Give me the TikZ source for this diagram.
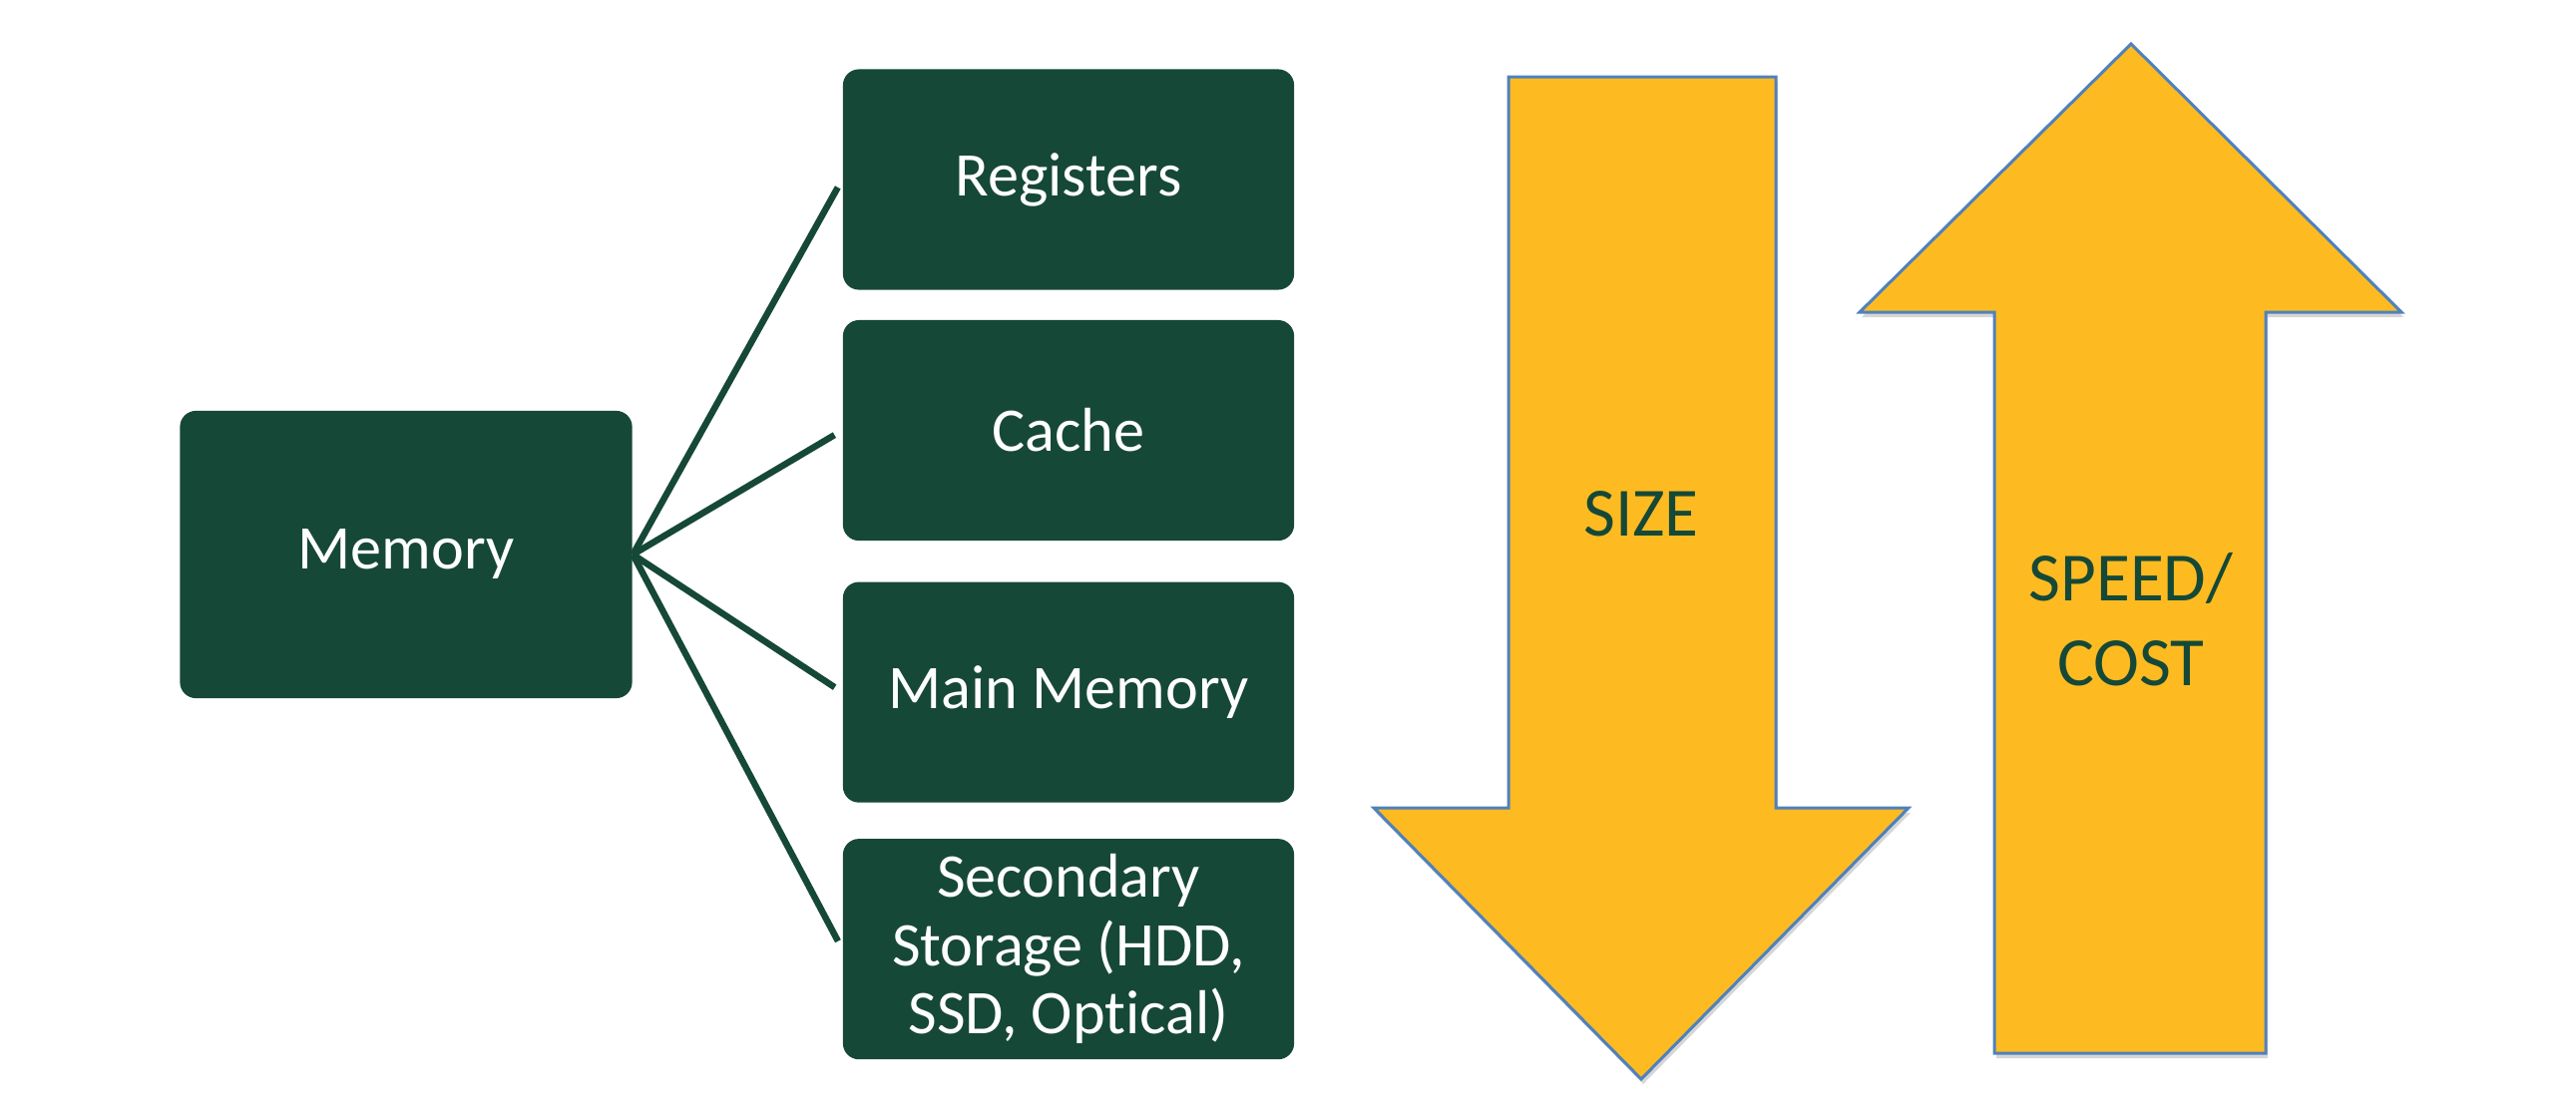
\documentclass[tikz,border=0pt]{standalone}
\usepackage{fontspec}
\setmainfont{Carlito}[Ligatures=NoCommon]
\usetikzlibrary{positioning}
\definecolor{forest}{RGB}{22,72,55}
\definecolor{amber}{RGB}{253,187,33}
\definecolor{edgeblue}{RGB}{79,129,189}

\begin{document}
\begin{tikzpicture}[
  x=0.01cm, y=-0.01cm,
  font=\fontsize{17.7}{19.5}\selectfont,
  box/.style={fill=forest, text=white, rounded corners=0.16cm, align=center, inner sep=0pt,
    minimum width=4.52cm, minimum height=2.21cm},
  fan/.style={draw=forest, line width=0.065cm, shorten >=0.09cm},
  bigarrow/.style={fill=amber, draw=edgeblue, line width=0.03cm, line join=miter,
    preaction={fill=black!16, transform canvas={shift={(2,5)}}}},
  tag/.style={text=forest, font=\fontsize{19.7}{24}\selectfont, align=center}
]
\useasboundingbox (0,0) rectangle (2582,1112);

\node[box, minimum width=4.53cm, minimum height=2.88cm] (mem) at (407,556) {Memory};
\node[box] (reg) at (1071,180) {Registers};
\node[box, below=0.29cm of reg] (cache) {Cache};
\node[box, below=0.40cm of cache] (main) {Main Memory};
\node[box, below=0.35cm of main] (sec) {Secondary\\Storage (HDD,\\SSD, Optical)};

\foreach \t in {reg,cache,main,sec}
  \draw[fan] (mem.east) -- (\t.west);

\draw[bigarrow] (1512,77) -- (1780,77) -- (1780,810) -- (1913,810) -- (1645,1082)
  -- (1377,810) -- (1512,810) -- cycle;
\draw[bigarrow] (2136,44) -- (2407,313) -- (2271,313) -- (2271,1056) -- (1999,1056)
  -- (1999,313) -- (1864,313) -- cycle;

\node[tag] (size) at (1645,515) {SIZE};
\node[tag] (speed) at (2136,621) {SPEED/\\COST};
\end{tikzpicture}
\end{document}
